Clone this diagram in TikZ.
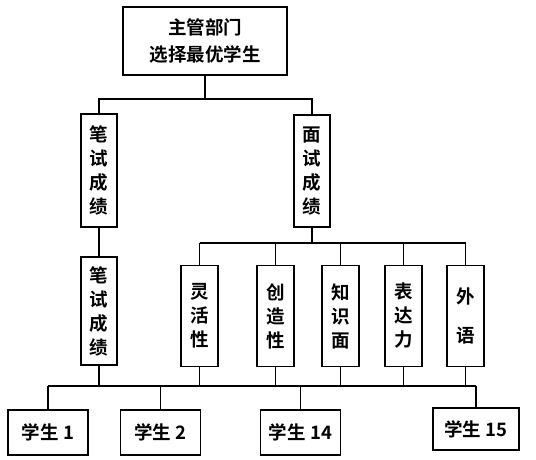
\documentclass[tikz,border=0pt]{standalone}
\usepackage{fontspec}
\newfontfamily\cjk{Noto Sans CJK SC}[BoldFont={Noto Sans CJK SC Bold}]
\usetikzlibrary{calc}

\begin{document}
\begin{tikzpicture}[x=1pt,y=-1pt,
    kuang/.style={draw, line width=1.3pt, inner sep=0pt, align=center,
        font=\cjk\bfseries\fontsize{18.5}{24}\selectfont},
    shu/.style={kuang, minimum width=36pt, minimum height=106pt},
    xuesheng/.style={kuang, minimum width=80pt, minimum height=45pt},
    xian/.style={line width=1.3pt}]
\useasboundingbox (0,0) rectangle (536,460);

% 三条横线的高度
\coordinate (h1) at (0,99);
\coordinate (h2) at (0,243);
\coordinate (h3) at (0,386);

% 顶层
\node[kuang, minimum width=164pt, minimum height=68pt, font=\cjk\bfseries\fontsize{18.5}{27}\selectfont]
    (top) at (205,41) {主管部门\\选择最优学生};

% 第二层
\node[shu, minimum height=113pt] (bs) at (99,170.5) {笔\\试\\成\\绩};
\node[shu, minimum height=112pt] (ms) at (312,171) {面\\试\\成\\绩};

% 第三层
\node[shu, minimum height=108pt] (bs2) at (99,311) {笔\\试\\成\\绩};
\foreach \name/\x/\txt in {lh/199.5/{灵\\活\\性}, cz/275.5/{创\\造\\性}, zs/340.5/{知\\识\\面},
        bd/403.5/{表\\达\\力}, wy/465.5/{外\\[15pt]语}} {
    \node[shu, minimum width=37pt, minimum height=101pt] (\name) at (\x,316) {\txt};
}

% 学生
\node[xuesheng] (s1) at (48,432.5) {学生 1};
\node[xuesheng] (s2) at (160.5,432.5) {学生 2};
\node[xuesheng] (s14) at (300.5,432.5) {学生 14};
\node[xuesheng, minimum width=86pt, minimum height=42pt] (s15) at (476,429) {学生 15};

% 连线
\draw[xian] (top.south) -- (top.south |- h1);
\draw[xian] (bs.north) -- (bs.north |- h1) -- (ms.north |- h1) -- (ms.north);
\draw[xian] (bs.south) -- (bs2.north);
\draw[xian] (ms.south) -- (ms.south |- h2);
\draw[xian] (lh.north |- h2) -- (wy.north |- h2);
\foreach \name in {lh,cz,zs,bd,wy} {
    \draw[xian] (\name.north) -- (\name.north |- h2);
}
\foreach \name in {bs2,lh,cz,zs,bd,wy} {
    \draw[xian] (\name.south) -- (\name.south |- h3);
}
\draw[xian] (s1.north |- h3) -- (s15.north |- h3);
\foreach \name in {s1,s2,s14,s15} {
    \draw[xian] (\name.north) -- (\name.north |- h3);
}

\end{tikzpicture}
\end{document}
